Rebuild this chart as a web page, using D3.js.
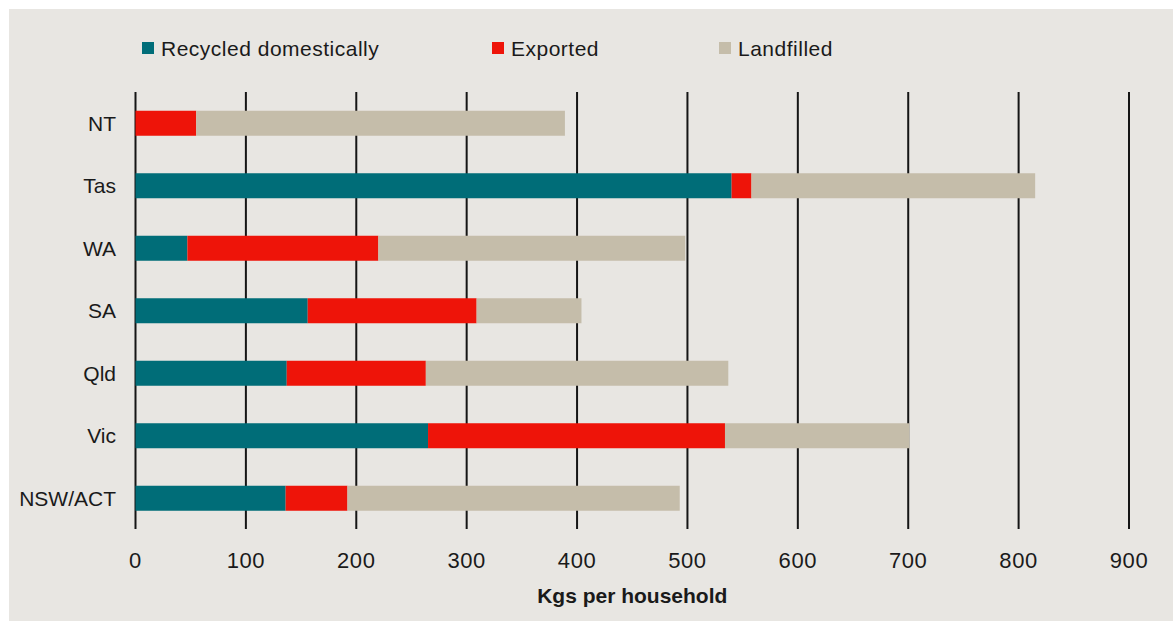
<!DOCTYPE html>
<html>
<head>
<meta charset="utf-8">
<script src="https://cdn.jsdelivr.net/npm/d3@7"></script>
<style>
    body { margin: 0; background: #ffffff; }
    #chart-area { width: 1173px; height: 622px; }
    text { font-family: "Liberation Sans", Arial, sans-serif; fill: #1a1a1a; }
</style>
</head>
<body>
<div id="chart-area"></div>
<script>
// data (kg per household)
const states = ["NT", "Tas", "WA", "SA", "Qld", "Vic", "NSW/ACT"];
const recycled = [0, 540, 47, 156, 137, 265, 136];
const exported = [55, 18, 173, 153, 126, 269, 56];
const landfilled = [334, 257, 278, 95, 274, 167, 301];

const seriesKeys = ["recycled", "exported", "landfilled"];
const seriesNames = ["Recycled domestically", "Exported", "Landfilled"];
const seriesColors = ["#006d78", "#ee1409", "#c5bdaa"];
const xTicks = [0, 100, 200, 300, 400, 500, 600, 700, 800, 900];

class StackedBar {

    constructor(parentElement) {
        this.parentElement = parentElement;
        this.data = states.map((s, i) => ({
            state: s,
            recycled: recycled[i],
            exported: exported[i],
            landfilled: landfilled[i]
        }));
        this.initVis();
    }

    initVis() {
        let vis = this;

        vis.width = 1173;
        vis.height = 622;

        vis.svg = d3.select("#" + vis.parentElement).append("svg")
            .attr("width", vis.width)
            .attr("height", vis.height);

        // grey panel, white strip top and left
        vis.svg.append("rect")
            .attr("x", 9)
            .attr("y", 9)
            .attr("width", vis.width - 9)
            .attr("height", vis.height - 9 - 1)
            .attr("fill", "#e8e6e2");

        vis.x = d3.scaleLinear()
            .domain([0, 900])
            .range([135.5, 1129]);

        vis.y = d3.scaleBand()
            .domain(states)
            .range([92, 529.5])
            .paddingInner(0.6)
            .paddingOuter(0.3);

        vis.gridTop = 92;
        vis.gridBottom = 529;

        vis.wrangleData();
    }

    wrangleData() {
        let vis = this;
        vis.stacked = d3.stack().keys(seriesKeys)(vis.data);
        vis.updateVis();
    }

    updateVis() {
        let vis = this;

        // vertical grid lines
        vis.svg.append("g")
            .selectAll("line")
            .data(xTicks)
            .join("line")
            .attr("x1", d => vis.x(d))
            .attr("x2", d => vis.x(d))
            .attr("y1", vis.gridTop)
            .attr("y2", vis.gridBottom)
            .attr("stroke", "#151515")
            .attr("stroke-width", 2);

        // tick labels
        vis.svg.append("g")
            .selectAll("text")
            .data(xTicks)
            .join("text")
            .attr("x", d => vis.x(d))
            .attr("y", 568)
            .attr("text-anchor", "middle")
            .attr("font-size", 22)
            .attr("letter-spacing", 0.6)
            .text(d => d);

        // axis title
        vis.svg.append("text")
            .attr("x", (vis.x(0) + vis.x(900)) / 2)
            .attr("y", 603)
            .attr("text-anchor", "middle")
            .attr("font-size", 21)
            .attr("font-weight", "bold")
            .text("Kgs per household");

        // category labels
        vis.svg.append("g")
            .selectAll("text")
            .data(states)
            .join("text")
            .attr("x", 116)
            .attr("y", d => vis.y(d) + vis.y.bandwidth() / 2)
            .attr("dy", "0.35em")
            .attr("text-anchor", "end")
            .attr("font-size", 21)
            .text(d => d);

        // bars
        vis.svg.append("g")
            .selectAll("g")
            .data(vis.stacked)
            .join("g")
            .attr("fill", (d, i) => seriesColors[i])
            .selectAll("rect")
            .data(d => d)
            .join("rect")
            .attr("x", d => vis.x(d[0]))
            .attr("y", d => vis.y(d.data.state))
            .attr("width", d => vis.x(d[1]) - vis.x(d[0]))
            .attr("height", vis.y.bandwidth());

        // legend
        let legendX = [142, 492, 719];
        let legend = vis.svg.append("g")
            .selectAll("g")
            .data(seriesNames)
            .join("g")
            .attr("transform", (d, i) => `translate(${legendX[i]}, 42)`);

        legend.append("rect")
            .attr("width", 12)
            .attr("height", 12)
            .attr("fill", (d, i) => seriesColors[i]);

        legend.append("text")
            .attr("x", 19)
            .attr("y", 14)
            .attr("font-size", 21)
            .attr("letter-spacing", 0.5)
            .text(d => d);
    }
}

new StackedBar("chart-area");
</script>
</body>
</html>
